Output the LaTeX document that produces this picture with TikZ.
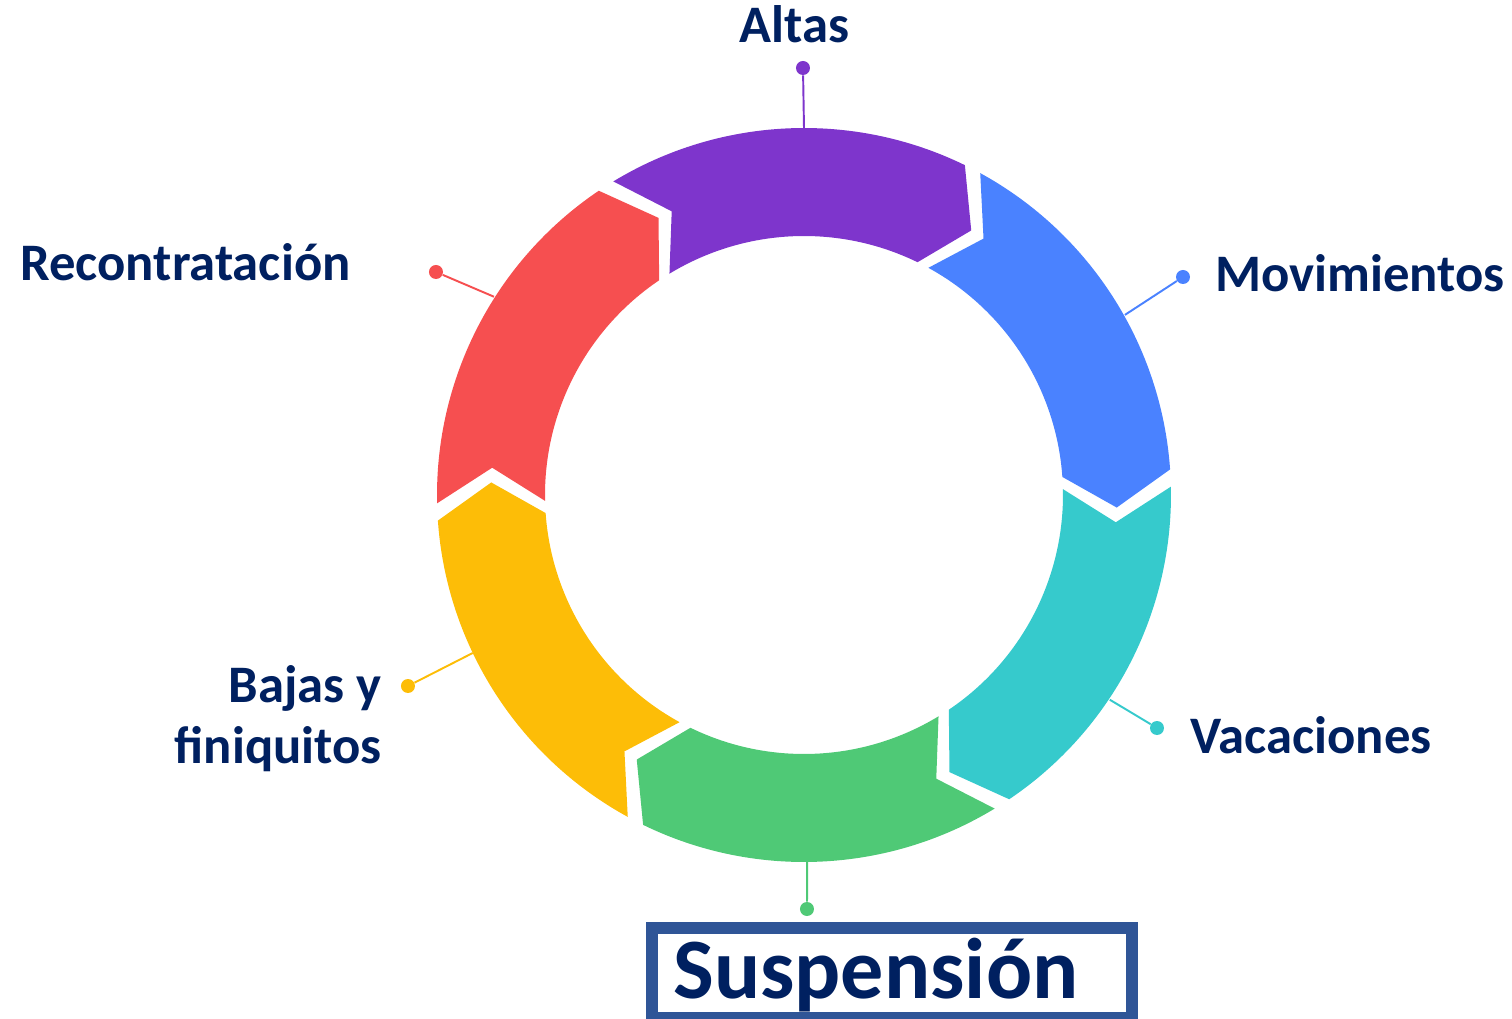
\documentclass[tikz,border=0pt]{standalone}
\usepackage{fontspec}
\setmainfont{Carlito}
\usetikzlibrary{positioning}

\definecolor{navy}{HTML}{002060}
\definecolor{boxblue}{HTML}{2F5597}
\definecolor{cpurple}{HTML}{7E35CC}
\definecolor{cblue}{HTML}{4A82FF}
\definecolor{ccyan}{HTML}{36CACC}
\definecolor{cgreen}{HTML}{4FC976}
\definecolor{cyellow}{HTML}{FDBD07}
\definecolor{cred}{HTML}{F64F50}

\tikzset{
  dot/.style={circle, fill=#1, inner sep=0pt, minimum size=0.28cm},
  lead/.style={draw=#1, line width=1.1pt},
  lbl/.style={text=navy, inner sep=0pt, font=\bfseries\fontsize{30}{36}\selectfont},
}

\begin{document}
\begin{tikzpicture}
\useasboundingbox (-16.08,-10.48) rectangle (14.16,9.9);

\foreach \a/\b/\c in {61.3/4/cblue, 1.3/-56/ccyan, -58.7/-116/cgreen,
                      -118.7/-176/cyellow, 181.3/124/cred, 121.3/64/cpurple}
  \fill[\c] (\a:7.34) arc[start angle=\a, end angle=\b, radius=7.34]
     -- ({\b-6.3}:6.26) -- (\b:5.18)
     arc[start angle=\b, end angle=\a, radius=5.18]
     -- ({\a-6.3}:6.26) -- cycle;

\coordinate (altas-r) at (90:7.34);
\coordinate (movim-r) at (29.3:7.36);
\coordinate (vacac-r) at (-33.8:7.36);
\coordinate (suspe-r) at (-89.5:7.3);
\coordinate (bajas-r) at (205.5:7.34);
\coordinate (recon-r) at (147.4:7.36);

\node[dot=cpurple] (altas-d) at (-0.02,8.54) {};
\node[dot=cblue] (movim-d) at (7.58,4.36) {};
\node[dot=ccyan] (vacac-d) at (7.06,-4.66) {};
\node[dot=cgreen] (suspe-d) at (0.06,-8.28) {};
\node[dot=cyellow] (bajas-d) at (-7.92,-3.82) {};
\node[dot=cred] (recon-d) at (-7.36,4.46) {};

\draw[lead=cpurple] (altas-r) -- (altas-d);
\draw[lead=cblue] (movim-r) -- (movim-d);
\draw[lead=ccyan] (vacac-r) -- (vacac-d);
\draw[lead=cgreen] (suspe-r) -- (suspe-d);
\draw[lead=cyellow] (bajas-r) -- (bajas-d);
\draw[lead=cred] (recon-r) -- (recon-d);

\node[lbl, anchor=base] (altas) at (-0.19,9.04) {Altas};
\node[lbl, anchor=base west] (movim) at (8.22,4.06) {Movimientos};
\node[lbl, anchor=base west] (vacac) at (7.72,-5.16) {Vacaciones};
\node[lbl, anchor=base west] (recon) at (-15.68,4.28) {Recontratación};
\node[lbl, anchor=base east] (bajas) at (-8.44,-4.14) {Bajas y};
\node[lbl, anchor=base east] (finiq) at (-8.44,-5.36) {finiquitos};

\draw[boxblue, line width=0.24cm] (-3.04,-8.66) rectangle (6.56,-10.46);
\node[lbl, anchor=base west, font=\bfseries\fontsize{49}{58}\selectfont] (suspe) at (-2.62,-10.06) {Suspensión};
\end{tikzpicture}
\end{document}
